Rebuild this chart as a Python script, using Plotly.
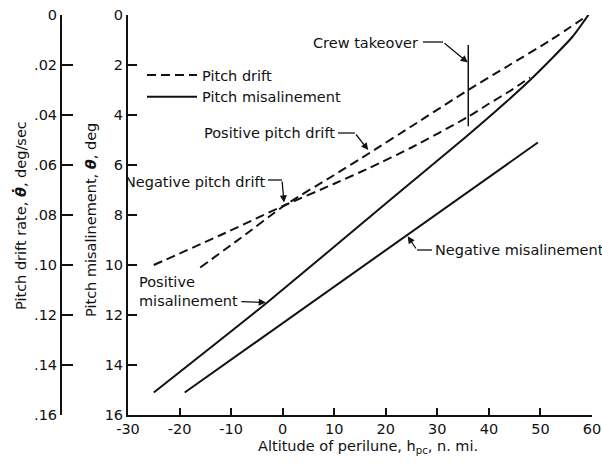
import plotly.graph_objects as go

# ---- data ----
pos_drift_x = [-16, -8, 0.5, 10, 17, 25, 36, 44, 52, 59.3]
pos_drift_y = [10.1, 8.9, 7.6, 6.4, 5.5, 4.45, 3.0, 2.0, 1.0, 0.0]

neg_drift_x = [-25, -12, 0.5, 10, 17, 25, 36, 40, 44, 48]
neg_drift_y = [10.0, 8.8, 7.6, 6.75, 6.1, 5.3, 4.07, 3.55, 3.05, 2.5]

pos_mis_x = [-25, -3, 21.4, 35.4, 43.5, 48, 52.4, 56.3, 59.3]
pos_mis_y = [15.1, 11.5, 7.3, 4.9, 3.45, 2.6, 1.7, 0.85, 0.0]

neg_mis_x = [-19, 49.5]
neg_mis_y = [15.1, 5.1]

crew_x = [36, 36]
crew_y = [1.2, 4.45]

x_ticks = [-30, -20, -10, 0, 10, 20, 30, 40, 50, 60]
x_ticktext = ["-30", "-20", "-10", "0", "10", "20", "30", "40", "50", "60"]
theta_ticks = [0, 2, 4, 6, 8, 10, 12, 14, 16]
rate_ticks = [0, 0.02, 0.04, 0.06, 0.08, 0.10, 0.12, 0.14, 0.16]
rate_ticktext = ["0", ".02", ".04", ".06", ".08", ".10", ".12", ".14", ".16"]

FONT = "DejaVu Sans"
FS = 14.5
INK = "#111111"
W, H = 602, 464
ML, MR, MT, MB = 0, 10, 15, 49
PW = W - ML - MR
PH = H - MT - MB

fig = go.Figure()
dash = "9px,5px"
fig.add_trace(go.Scatter(x=pos_drift_x, y=pos_drift_y, mode="lines", name="Pitch drift",
                         line=dict(color=INK, width=2, dash=dash, shape="spline", smoothing=0.6),
                         legendgroup="d"))
fig.add_trace(go.Scatter(x=neg_drift_x, y=neg_drift_y, mode="lines", name="Pitch drift",
                         line=dict(color=INK, width=2, dash=dash, shape="spline", smoothing=0.6),
                         legendgroup="d", showlegend=False))
fig.add_trace(go.Scatter(x=pos_mis_x, y=pos_mis_y, mode="lines", name="Pitch misalinement",
                         line=dict(color=INK, width=2, shape="spline", smoothing=0.6),
                         legendgroup="m"))
fig.add_trace(go.Scatter(x=neg_mis_x, y=neg_mis_y, mode="lines", name="Pitch misalinement",
                         line=dict(color=INK, width=2), legendgroup="m", showlegend=False))
fig.add_trace(go.Scatter(x=crew_x, y=crew_y, mode="lines", line=dict(color=INK, width=1.5),
                         showlegend=False, hoverinfo="skip"))
fig.add_trace(go.Scatter(x=[None], y=[None], yaxis="y2", showlegend=False, hoverinfo="skip"))

axis_common = dict(showline=True, linecolor=INK, linewidth=2, ticks="inside", tickcolor=INK,
                   tickwidth=2, showgrid=False, zeroline=False,
                   tickfont=dict(family=FONT, size=FS, color=INK))

fig.update_layout(
    width=W, height=H, margin=dict(l=ML, r=MR, t=MT, b=MB, autoexpand=False),
    paper_bgcolor="white", plot_bgcolor="white",
    font=dict(family=FONT, size=FS, color=INK),
    xaxis=dict(domain=[128 / PW, 1], range=[-30, 60], tickvals=x_ticks, ticktext=x_ticktext,
               ticklen=7, **axis_common),
    yaxis=dict(range=[16, 0], tickvals=theta_ticks, ticklen=9, anchor="x", **axis_common),
    yaxis2=dict(range=[0.16, 0], tickvals=rate_ticks, ticktext=rate_ticktext, ticklen=11,
                overlaying="y", anchor="free", position=61 / PW, side="left", **axis_common),
    showlegend=True,
    legend=dict(x=142 / PW, y=(415 - 59) / PH, xanchor="left", yanchor="top",
                bgcolor="rgba(0,0,0,0)", font=dict(family=FONT, size=FS, color=INK),
                itemwidth=50, tracegroupgap=0),
)

def px2x(px):
    return px / PW

def py2y(py):
    return (415 - py) / PH

# axis titles
fig.add_annotation(text="Pitch drift rate, <b><i>θ̇</i></b>, deg/sec", xref="paper", yref="paper",
                   x=px2x(20), y=py2y(216), textangle=-90, showarrow=False,
                   xanchor="center", yanchor="middle", font=dict(size=FS))
fig.add_annotation(text="Pitch misalinement, <b><i>θ</i></b>, deg", xref="paper", yref="paper",
                   x=px2x(91), y=py2y(220), textangle=-90, showarrow=False,
                   xanchor="center", yanchor="middle", font=dict(size=FS))
fig.add_annotation(text="Altitude of perilune, h<sub>pc</sub>, n. mi.", xref="paper", yref="paper",
                   x=px2x(368), y=py2y(447), showarrow=False,
                   xanchor="center", yanchor="middle", font=dict(size=FS))

# in-plot labels
def label(text, x, y, xanchor, align="left"):
    fig.add_annotation(text=text, x=x, y=y, xref="x", yref="y", showarrow=False,
                       xanchor=xanchor, yanchor="middle", align=align, font=dict(size=FS))

def leader(x0, y0, x1, y1, x2, y2):
    fig.add_shape(type="line", x0=x0, y0=y0, x1=x1, y1=y1, xref="x", yref="y",
                  line=dict(color=INK, width=1.3))
    fig.add_annotation(text="", x=x2, y=y2, ax=x1, ay=y1, axref="x", ayref="y", xref="x", yref="y",
                       showarrow=True, arrowhead=2, arrowsize=1.1, arrowwidth=1.3, arrowcolor=INK,
                       standoff=0)

label("Crew takeover", 26.6, 1.12, "right")
leader(27.2, 1.08, 31.1, 1.08, 35.9, 1.9)

label("Positive pitch drift", 10.5, 4.72, "right")
leader(10.74, 4.72, 14.0, 4.72, 16.6, 5.4)

label("Negative pitch drift", -3.0, 6.68, "right")
leader(-2.84, 6.6, -0.13, 6.6, 0.26, 7.5)

label("Positive<br>misalinement", -28.25, 11.04, "left")
fig.add_annotation(text="", x=-3.25, y=11.5, ax=-8.3, ay=11.46, axref="x", ayref="y", xref="x", yref="y",
                   showarrow=True, arrowhead=2, arrowsize=1.1, arrowwidth=1.3, arrowcolor=INK, standoff=0)

label("Negative misalinement", 29.2, 9.4, "left")
leader(28.97, 9.4, 26.06, 9.4, 24.25, 8.85)

fig.write_html("out.html")
